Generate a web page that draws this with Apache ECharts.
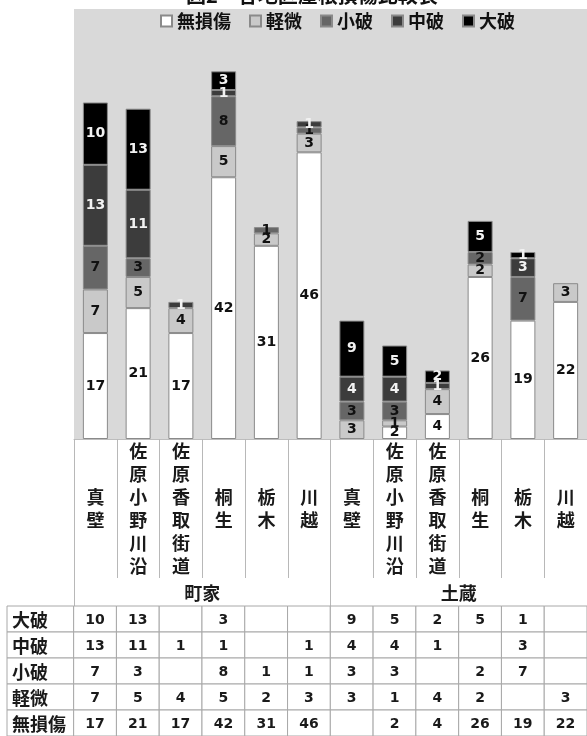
<!DOCTYPE html>
<html><head><meta charset="utf-8">
<script src="https://cdn.jsdelivr.net/npm/echarts@6/dist/echarts.min.js"></script>
<style>html,body{margin:0;padding:0;background:#fff}#c{width:587px;height:736px}</style>
</head><body><div id="c"></div>
<script>
// ---- data ----
const titleText = '図2　各地区屋根損傷比較表';
const categories = ['真壁','佐原小野川沿','佐原香取街道','桐生','栃木','川越','真壁','佐原小野川沿','佐原香取街道','桐生','栃木','川越'];
const groups = ['町家','土蔵'];
const seriesNames = ['無損傷','軽微','小破','中破','大破'];
const noDamage = [17,21,17,42,31,46, null,2,4,26,19,22];
const slight   = [7,5,4,5,2,3, 3,1,4,2,null,3];
const minor    = [7,3,null,8,1,1, 3,3,null,2,7,null];
const moderate = [13,11,1,1,null,1, 4,4,1,null,3,null];
const severe   = [10,13,null,3,null,null, 9,5,2,5,1,null];
const tableRows = ['大破','中破','小破','軽微','無損傷'];

// ---- styles ----
const colors = ['#ffffff','#c9c9c9','#666666','#3c3c3c','#000000'];
const labelColors = ['#111','#111','#111','#f2f2f2','#f2f2f2'];
const values = [noDamage, slight, minor, moderate, severe];
const rowValues = [severe, moderate, minor, slight, noDamage];
const CJK = '"Noto Sans CJK JP", sans-serif';
const NUM = '"DejaVu Sans", sans-serif';

const barSeries = seriesNames.map((n,i)=>({
  name:n, type:'bar', stack:'all', barWidth:25, xAxisIndex:0, yAxisIndex:0,
  data: values[i].map(v => v == null ? '-' : v),
  itemStyle:{color:colors[i], borderColor:'#8a8a8a', borderWidth:1},
  label:{show:true, position:'inside', color:labelColors[i], fontSize:14, fontWeight:'bold', fontFamily:NUM,
    formatter: p => (p.value === '-' || p.value == null) ? '' : String(p.value)}
}));

// table cells: label column + 12 value columns per row
const labelColStart = -67/43;
const cells = [];
tableRows.forEach((r, ri) => {
  cells.push({x0: labelColStart, x1: 0, row: ri, text: r, isLabel: true});
  rowValues[ri].forEach((v, ci) => {
    cells.push({x0: ci, x1: ci + 1, row: ri, text: v == null ? '' : String(v), isLabel: false});
  });
});

const tableSeries = {
  type:'custom', xAxisIndex:2, yAxisIndex:1, silent:true,
  data: cells.map(c => [c.x0, c.row, c.x1]),
  encode:{x:[0,2], y:1},
  renderItem:(params, api) => {
    const c = cells[params.dataIndex];
    const p0 = api.coord([api.value(0), api.value(1)]);
    const p1 = api.coord([api.value(2), api.value(1)]);
    const h = api.size([0,1])[1];
    return {type:'group', children:[
      {type:'rect', shape:{x:p0[0], y:p0[1]-h/2, width:p1[0]-p0[0], height:h},
        style:{fill:'#fff', stroke:'#a8a8a8', lineWidth:1}},
      {type:'text', style:{text:c.text,
        x: c.isLabel ? p0[0]+5 : (p0[0]+p1[0])/2, y:p0[1]+1,
        align: c.isLabel ? 'left' : 'center', verticalAlign:'middle',
        fill:'#1a1a1a',
        font: c.isLabel ? ('bold 18px ' + CJK) : ('bold 14px ' + NUM)}}
    ]};
  }
};

const chart = echarts.init(document.getElementById('c'), null, {renderer:'canvas'});
chart.setOption({
  animation:false,
  backgroundColor:'#ffffff',
  title:{text:titleText, left:181, top:-20,
    textStyle:{fontSize:20, fontWeight:'bold', fontFamily:CJK, color:'#111'}},
  legend:{data:seriesNames, left:155, top:7, itemWidth:11, itemHeight:11, itemGap:18,
    icon:'rect', textStyle:{fontSize:18, fontWeight:'bold', fontFamily:CJK, color:'#111'}},
  grid:[
    {left:74, right:-3, top:9, bottom:297, show:true, backgroundColor:'#d9d9d9', borderWidth:0},
    {left:7, right:-3, top:606, bottom:0}
  ],
  xAxis:[
    {type:'category', gridIndex:0, data:categories.map((c,i)=>c+'#'+i),
      axisLine:{show:true, lineStyle:{color:'#bdbdbd'}},
      axisTick:{show:true, interval:0, length:139, lineStyle:{color:'#b8b8b8'}},
      axisLabel:{interval:0, margin:70, verticalAlign:'middle', lineHeight:23,
        fontSize:18, fontWeight:'bold', fontFamily:CJK, color:'#1a1a1a',
        formatter:(v, idx) => categories[idx].split('').join('\n')}},
    {type:'category', gridIndex:0, position:'bottom', offset:139, data:groups,
      axisLine:{show:false},
      axisTick:{show:true, interval:0, length:28, lineStyle:{color:'#b8b8b8'}},
      axisLabel:{interval:0, margin:15, verticalAlign:'middle',
        fontSize:18, fontWeight:'bold', fontFamily:CJK, color:'#1a1a1a'}},
    {type:'value', gridIndex:1, min:labelColStart, max:12, show:false}
  ],
  yAxis:[
    {type:'value', gridIndex:0, min:0, max:69, show:false, splitLine:{show:false}},
    {type:'category', gridIndex:1, data:tableRows, inverse:true, show:false}
  ],
  series:[...barSeries, tableSeries]
});
</script>
</body></html>
